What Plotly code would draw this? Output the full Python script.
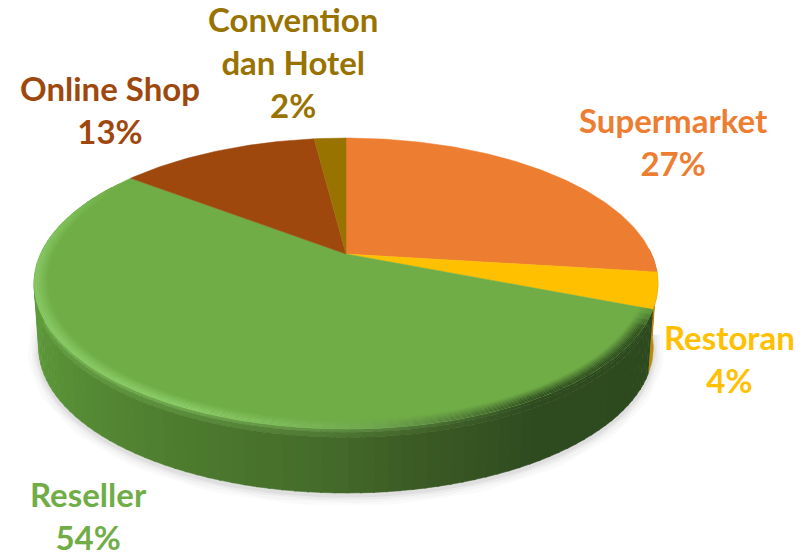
import numpy as np
import plotly.graph_objects as go

categories = ["Supermarket", "Restoran", "Reseller", "Online Shop", "Convention<br>dan Hotel"]
values = [27.0, 4.0, 54.45, 12.55, 2.0]
colors = ["#ED7D31", "#FFC000", "#70AD47", "#9E480E", "#997300"]
label_xy = [(673, 141), (729, 358), (88, 515), (110, 109), (293, 62)]

# perspective view of the pie disc
CX, CY, A, B, K = 346.0, 254.0, 305.5, 139.5, 0.203
DEPTH, INSET = 64.0, 0.985


def disc(theta_deg, r=1.0):
    t = np.radians(theta_deg)
    X, Y = r * np.sin(t), r * np.cos(t)
    w = 1 + K * Y
    return CX + A * X / w, CY - B * Y / w


def wall(theta_deg, f):
    x, y = disc(theta_deg)
    return CX + (x - CX) * (1 - (1 - INSET) * f), y + DEPTH * f


def rgb(h):
    return np.array([int(h[i:i + 2], 16) for i in (1, 3, 5)], float)


def css(c):
    return "rgb(%d,%d,%d)" % tuple(np.clip(c, 0, 255))


WALL_TH = [112, 150, 170, 185, 210, 240, 270, 290, 310]
WALL_C = np.array([rgb(c) for c in ["#2d4a1f", "#2f4c20", "#3c5c25", "#466d2b", "#4f7f30",
                                    "#5a9338", "#5f9e3c", "#66a83f", "#70AD47"]])
LIGHT = rgb("#8fd06c")


def wall_rgb(th):
    return np.array([np.interp(th, WALL_TH, WALL_C[:, i]) for i in range(3)])


def glow(th):
    return float(np.interp(th, [112, 150, 175, 205, 270, 296], [0.0, 0.0, 0.6, 1.0, 0.85, 0.6]))


fig = go.Figure()


def poly(x, y, color):
    fig.add_trace(go.Scatter(x=list(x), y=list(y), mode="lines", fill="toself", fillcolor=color,
                             line=dict(color=color, width=0.5), hoverinfo="skip", showlegend=False))


edges = np.concatenate([[0], np.cumsum(values)]) * 3.6
green_start, green_end = edges[2], edges[3]

# soft shadow under the disc
shade = np.arange(96, 288, 2.0)
sx, sy = zip(*[wall(t, 1.0) for t in shade])
for width, alpha in [(22, 0.018), (16, 0.025), (10, 0.035), (5, 0.05)]:
    fig.add_trace(go.Scatter(x=sx, y=np.array(sy) + 2, mode="lines", hoverinfo="skip", showlegend=False,
                             line=dict(color="rgba(0,0,0,%.3f)" % alpha, width=width)))

# sliver of the orange / yellow walls at the right
for a, b, c in [(88, edges[1], "#9a5a22"), (edges[1], green_start, "#b98a08")]:
    ts = np.linspace(a, b, 12)
    up = [wall(t, 0) for t in ts]
    lo = [wall(t, 1) for t in ts[::-1]]
    poly([p[0] for p in up + lo], [p[1] for p in up + lo], c)

# green wall, strip by strip
step = 2.0
for th in np.arange(green_start, min(green_end, 300), step):
    base = wall_rgb(th + step / 2)
    g = glow(th + step / 2)
    for f0, f1, m in [(0.0, 0.05, 0.5 * g), (0.05, 0.13, 0.2 * g), (0.13, 1.0, 0.0)]:
        p = [wall(th, f0), wall(th + step + 0.3, f0), wall(th + step + 0.3, f1), wall(th, f1)]
        poly([q[0] for q in p], [q[1] for q in p], css(base + (LIGHT - base) * m))

# top faces
for i, c in enumerate(colors):
    ts = np.linspace(edges[i], edges[i + 1], max(4, int(values[i] * 4)))
    px, py = disc(ts)
    poly(np.r_[CX, px, CX], np.r_[CY, py, CY], c)

# rounded rim of the green slice, blended in fine rings
top = rgb(colors[2])
radii = np.linspace(0.955, 1.0, 10)
weights = np.interp(radii[:-1], [0.955, 0.985, 0.993, 1.0], [0.05, 0.85, 1.0, 0.85])
for th in np.arange(green_start, green_end, step):
    th1 = min(th + step + 0.2, green_end)
    mid = (th + th1) / 2
    g = glow(mid)
    target = wall_rgb(mid) + (LIGHT - wall_rgb(mid)) * g
    tail = np.interp(mid, [285, 306], [1, 0]) * np.interp(mid, [green_start, green_start + 8], [0.15, 1])
    for r0, r1, m in zip(radii[:-1], radii[1:], weights):
        col = top + (target - top) * m * tail
        xa, ya = disc(th, r0)
        xb, yb = disc(th1, r0)
        xc, yc = disc(th1, r1)
        xd, yd = disc(th, r1)
        fig.add_trace(go.Scatter(x=[xa, xb, xc, xd], y=[ya, yb, yc, yd], mode="lines", fill="toself",
                                 fillcolor=css(col), line=dict(width=0), hoverinfo="skip", showlegend=False))

pct = [round(v) for v in values]
ann = []
for name, p, c, (lx, ly) in zip(categories, pct, colors, label_xy):
    ann.append(dict(x=lx, y=ly, xref="x", yref="y", text="<b>%s<br>%d%%</b>" % (name, p), showarrow=False,
                    xanchor="center", yanchor="middle", align="center",
                    font=dict(family="Lato, Carlito, sans-serif", size=33, color=c)))

fig.update_layout(width=812, height=559, margin=dict(l=0, r=0, t=0, b=0), showlegend=False,
                  paper_bgcolor="white", plot_bgcolor="white", annotations=ann,
                  xaxis=dict(range=[0, 812], visible=False, fixedrange=True),
                  yaxis=dict(range=[559, 0], visible=False, fixedrange=True))
fig.write_html("out.html", config=dict(displayModeBar=False),
               post_script="document.body.style.margin='0';document.body.style.overflow='hidden';")
